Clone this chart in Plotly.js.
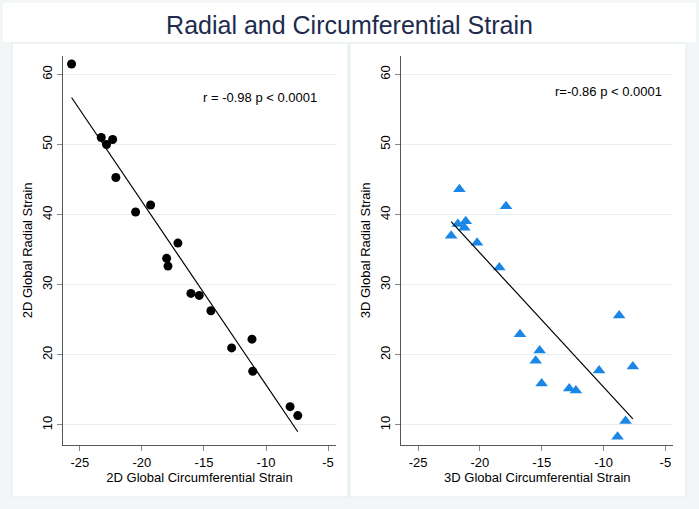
<!DOCTYPE html>
<html>
<head>
<meta charset="utf-8">
<script src="https://cdn.plot.ly/plotly-3.0.1.min.js"></script>
<style>html,body{margin:0;padding:0;background:#f2f6f6;}#chart{width:699px;height:509px;}</style>
</head>
<body>
<div id="chart"></div>
<script>
// 2D data
var x2D = [-25.67, -23.28, -22.85, -22.36, -22.10, -20.51, -19.30, -17.10, -18.01, -17.90, -16.05, -15.38, -14.44, -12.77, -11.13, -11.07, -8.06, -7.44];
var y2D = [61.47, 50.99, 50.00, 50.71, 45.29, 40.37, 41.37, 35.94, 33.76, 32.66, 28.76, 28.47, 26.29, 20.99, 22.23, 17.66, 12.61, 11.33];
// 3D data
var x3D = [-21.66, -17.89, -21.15, -21.79, -21.26, -22.33, -20.23, -18.43, -16.76, -8.74, -15.17, -15.49, -10.36, -7.63, -15.01, -12.78, -12.24, -8.22, -8.87];
var y3D = [43.61, 41.19, 39.04, 38.66, 38.14, 37.00, 36.00, 32.47, 22.94, 25.61, 20.60, 19.14, 17.76, 18.33, 15.90, 15.19, 14.90, 10.57, 8.33];

var xTicks = [-25, -20, -15, -10, -5];
var yTicks = [10, 20, 30, 40, 50, 60];
var labels = {
  title: "Radial and Circumferential Strain",
  x1: "2D Global Circumferential Strain",
  y1: "2D Global Radial Strain",
  x2: "3D Global Circumferential Strain",
  y2: "3D Global Radial Strain",
  ann1: "r = -0.98 p < 0.0001",
  ann2: "r=-0.86 p < 0.0001"
};

function fitLine(xs, ys) {
  var n = xs.length, sx = 0, sy = 0, sxx = 0, sxy = 0;
  for (var i = 0; i < n; i++) { sx += xs[i]; sy += ys[i]; sxx += xs[i]*xs[i]; sxy += xs[i]*ys[i]; }
  var b = (n*sxy - sx*sy) / (n*sxx - sx*sx);
  var a = (sy - b*sx) / n;
  var xmin = Math.min.apply(null, xs), xmax = Math.max.apply(null, xs);
  return {x: [xmin, xmax], y: [a + b*xmin, a + b*xmax]};
}
var f1 = fitLine(x2D, y2D), f2 = fitLine(x3D, y3D);

var W = 699, H = 509;
function px(v) { return v / W; }
function py(v) { return 1 - v / H; }

var font = {family: "Liberation Sans, Arial, sans-serif", size: 13, color: "#000"};

var traces = [
  {x: x2D, y: y2D, type: "scatter", mode: "markers", xaxis: "x", yaxis: "y",
   marker: {symbol: "circle", size: 9, color: "#000"}, hoverinfo: "skip"},
  {x: f1.x, y: f1.y, type: "scatter", mode: "lines", xaxis: "x", yaxis: "y",
   line: {color: "#000", width: 1.2}, hoverinfo: "skip"},
  {x: x3D, y: y3D, type: "scatter", mode: "markers", xaxis: "x2", yaxis: "y2",
   marker: {symbol: "triangle-up", size: 11, color: "#1a86e6"}, hoverinfo: "skip"},
  {x: f2.x, y: f2.y, type: "scatter", mode: "lines", xaxis: "x2", yaxis: "y2",
   line: {color: "#000", width: 1.2}, hoverinfo: "skip"}
];

function xax(dom, title) {
  return {domain: dom, range: [-26.36, -4.36], tickvals: xTicks, ticktext: xTicks.map(String),
    showgrid: false, zeroline: false, showline: true, linecolor: "#555", linewidth: 1,
    ticks: "outside", ticklen: 5, tickcolor: "#888", tickfont: font,
    title: {text: title, font: font, standoff: 0}};
}
function yax(dom, title, anchor) {
  return {domain: dom, range: [7.14, 62.66], tickvals: yTicks, ticktext: yTicks.map(String),
    showgrid: true, gridcolor: "#e6eff0", gridwidth: 1, zeroline: false, showline: true,
    linecolor: "#555", linewidth: 1, ticks: "outside", ticklen: 5, tickcolor: "#888",
    tickangle: -90, tickfont: font, anchor: anchor,
    title: {text: title, font: font, standoff: 4}};
}

var yd = [py(445), py(55.7)];
var layout = {
  width: W, height: H,
  margin: {l: 0, r: 0, t: 0, b: 0},
  paper_bgcolor: "#f2f6f6", plot_bgcolor: "rgba(0,0,0,0)",
  showlegend: false,
  title: {text: labels.title, font: {family: "Liberation Sans, Arial, sans-serif", size: 25, color: "#1e2b4e"},
    x: 0.5, xanchor: "center", y: py(25), yanchor: "middle"},
  xaxis: xax([px(63), px(336)], labels.x1),
  yaxis: yax(yd, labels.y1, "x"),
  xaxis2: Object.assign(xax([px(401.3), px(673.3)], labels.x2), {anchor: "y2"}),
  yaxis2: yax(yd, labels.y2, "x2"),
  shapes: [
    {type: "rect", xref: "paper", yref: "paper", x0: px(3), x1: px(696), y0: py(42), y1: py(3),
     fillcolor: "#fff", line: {width: 0}, layer: "below"},
    {type: "rect", xref: "paper", yref: "paper", x0: px(12), x1: px(348), y0: py(497), y1: py(43),
     fillcolor: "#fff", line: {color: "#e3ecee", width: 1}, layer: "below"},
    {type: "rect", xref: "paper", yref: "paper", x0: px(350), x1: px(686), y0: py(497), y1: py(43),
     fillcolor: "#fff", line: {color: "#e3ecee", width: 1}, layer: "below"}
  ],
  annotations: [
    {text: labels.ann1, xref: "paper", yref: "paper", x: px(201), y: py(97.7), xanchor: "left", yanchor: "middle",
     showarrow: false, font: font},
    {text: labels.ann2, xref: "paper", yref: "paper", x: px(553), y: py(91.7), xanchor: "left", yanchor: "middle",
     showarrow: false, font: font}
  ]
};

Plotly.newPlot("chart", traces, layout, {staticPlot: true, displayModeBar: false});
</script>
</body>
</html>
